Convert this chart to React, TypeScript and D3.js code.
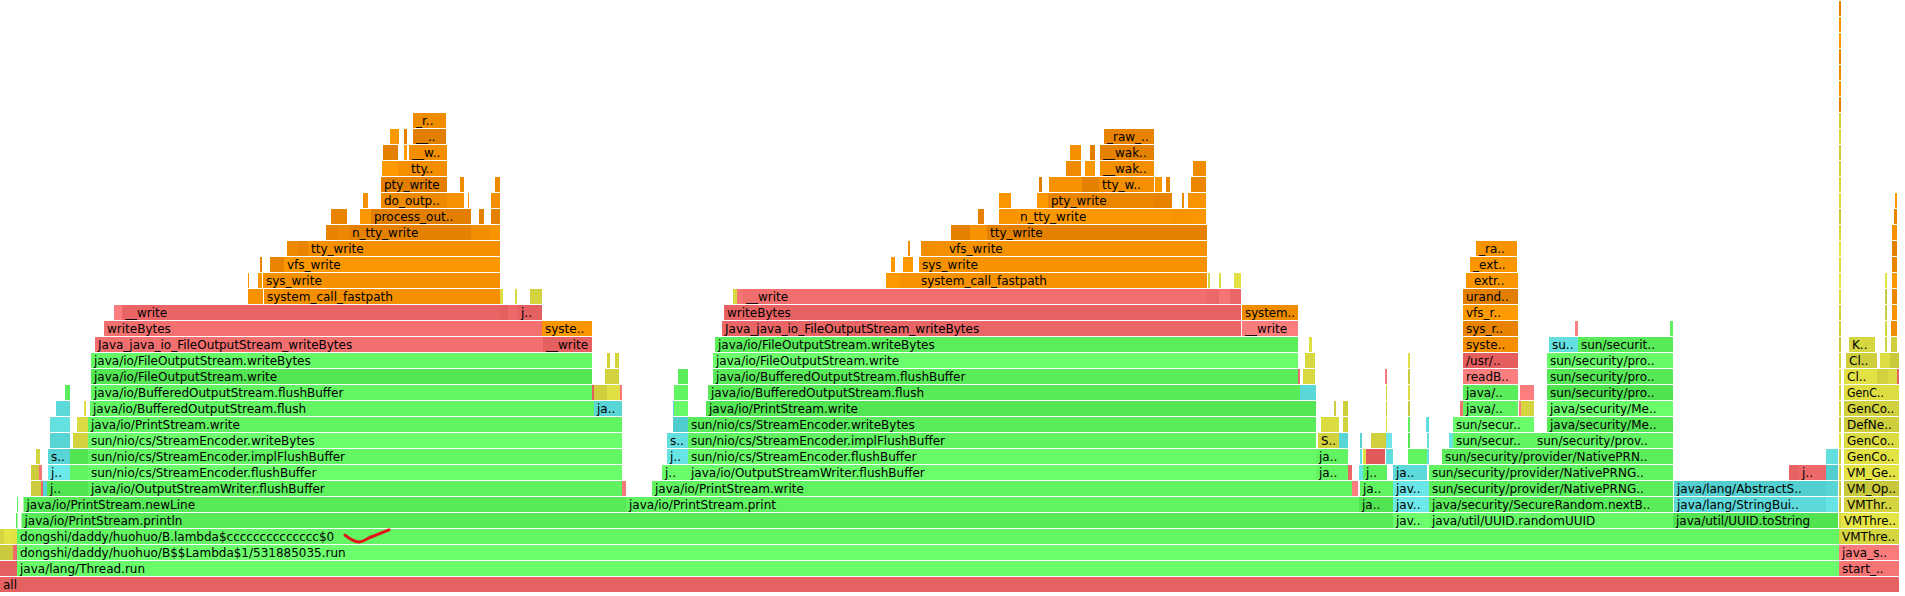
import React, { useEffect, useRef } from 'react';
import * as d3 from 'd3';

type Kind = 'G' | 'C' | 'Y' | 'K' | 'R';
type Frame = [number, number, string, Kind];

// Flame graph: each level lists frames as [firstSample, lastSample, frameName, frameKind]
const TOTAL_SAMPLES = 1899;
const MAX_DEPTH = 36;

const level0: Frame[] = [[0, 1899, 'all', 'R']];
const level1: Frame[] = [[0, 17, '', 'R'], [17, 1839, 'java/lang/Thread.run', 'G'], [1839, 1899, 'start_thread', 'R']];
const level2: Frame[] = [[0, 13, '', 'Y'], [13, 17, '', 'R'], [17, 1839, 'dongshi/daddy/huohuo/B$$Lambda$1/531885035.run', 'G'], [1839, 1899, 'java_start(Thread*)', 'R']];
const level3: Frame[] = [[0, 4, '', 'Y'], [4, 13, '', 'Y'], [13, 17, '', 'Y'], [17, 1839, 'dongshi/daddy/huohuo/B.lambda$cccccccccccccc$0', 'G'], [1839, 1899, 'VMThread::run', 'Y']];
const level4: Frame[] = [[16, 17.5, '', 'G'], [21.5, 1393, 'java/io/PrintStream.println', 'G'], [1393, 1429, 'java/lang/StringBuilder.append', 'G'], [1429, 1673, 'java/util/UUID.randomUUID', 'G'], [1673, 1838, 'java/util/UUID.toString', 'G'], [1841, 1899, 'VMThread::loop', 'Y']];
const level5: Frame[] = [[17, 18, '', 'G'], [23.5, 626, 'java/io/PrintStream.newLine', 'G'], [626, 1359, 'java/io/PrintStream.print', 'G'], [1359, 1393, 'java/lang/String.valueOf', 'G'], [1393, 1429, 'java/lang/AbstractStringBuilder.append', 'C'], [1429, 1673, 'java/security/SecureRandom.nextBytes', 'G'], [1674, 1826, 'java/lang/StringBuilder.append', 'C'], [1826, 1838, '', 'C'], [1844, 1899, 'VMThread::evaluate_operation', 'Y']];
const level6: Frame[] = [[31, 41, '', 'Y'], [41, 43, '', 'R'], [43, 47, '', 'C'], [47, 70, 'java/io/BufferedWriter.flushBuffer', 'G'], [70, 88, '', 'G'], [88, 622, 'java/io/OutputStreamWriter.flushBuffer', 'G'], [622, 626, '', 'R'], [652, 1352, 'java/io/PrintStream.write', 'G'], [1352, 1358, '', 'R'], [1360, 1393, 'java/lang/String.toString', 'G'], [1393, 1429, 'java/lang/AbstractStringBuilder.ensureCapacityInternal', 'C'], [1429, 1673, 'sun/security/provider/NativePRNG.engineNextBytes', 'G'], [1674, 1826, 'java/lang/AbstractStringBuilder.append', 'C'], [1826, 1838, '', 'C'], [1844, 1899, 'VM_Operation::evaluate', 'Y']];
const level7: Frame[] = [[31, 39, '', 'Y'], [39, 42, '', 'R'], [48, 70, 'java/io/OutputStreamWriter.flushBuffer', 'C'], [70, 88, '', 'G'], [88, 622, 'sun/nio/cs/StreamEncoder.flushBuffer', 'G'], [662, 688, 'java/io/BufferedWriter.flushBuffer', 'G'], [688, 1316, 'java/io/OutputStreamWriter.flushBuffer', 'G'], [1316, 1348, 'java/io/BufferedWriter.write', 'G'], [1348, 1352, '', 'R'], [1359, 1363, '', 'C'], [1363, 1387, 'java/lang/String.<init>', 'G'], [1393, 1427, 'java/util/Arrays.copyOf', 'C'], [1429, 1673, 'sun/security/provider/NativePRNG$RandomIO.implNextBytes', 'G'], [1789, 1799, '', 'R'], [1799, 1826, 'jlong_disjoint_arraycopy', 'R'], [1826, 1838, '', 'C'], [1844, 1899, 'VM_GenCollectForAllocation::doit', 'Y']];
const level8: Frame[] = [[36, 40, '', 'Y'], [48, 70, 'sun/nio/cs/StreamEncoder.flushBuffer', 'C'], [70, 88, '', 'G'], [88, 622, 'sun/nio/cs/StreamEncoder.implFlushBuffer', 'G'], [667, 688, 'java/io/OutputStreamWriter.flushBuffer', 'C'], [688, 1316, 'sun/nio/cs/StreamEncoder.flushBuffer', 'G'], [1316, 1348, 'java/io/Writer.write', 'G'], [1360, 1362, '', 'C'], [1363, 1366, '', 'Y'], [1366, 1385, '', 'R'], [1386, 1393, '', 'C'], [1408, 1427, '', 'G'], [1427, 1429, '', 'C'], [1442, 1673, 'sun/security/provider/NativePRNG$RandomIO.ensureBufferValid', 'G'], [1826, 1838, '', 'C'], [1844, 1899, 'GenCollectedHeap::do_collection', 'Y']];
const level9: Frame[] = [[50, 70, '', 'C'], [73, 88, '', 'Y'], [88, 622, 'sun/nio/cs/StreamEncoder.writeBytes', 'G'], [667, 688, 'sun/nio/cs/StreamEncoder.implFlushBuffer', 'C'], [688, 1316, 'sun/nio/cs/StreamEncoder.implFlushBuffer', 'G'], [1318, 1339, 'SharedRuntime::complete_monitor_locking_C', 'Y'], [1339, 1348, '', 'C'], [1360, 1362, '', 'C'], [1371, 1386, '', 'Y'], [1386, 1392, '', 'C'], [1408, 1410, '', 'G'], [1427, 1429, '', 'C'], [1449, 1453, '', 'C'], [1453, 1534, 'sun/security/provider/NativePRNG$RandomIO.readFully', 'G'], [1534, 1673, 'sun/security/provider/SecureRandom.engineNextBytes', 'G'], [1844, 1899, 'GenCollectedHeap::collect_generation', 'Y']];
const level10: Frame[] = [[50, 56, '', 'C'], [56, 70, '', 'C'], [77, 88, '', 'Y'], [88, 622, 'java/io/PrintStream.write', 'G'], [673, 688, '', 'C'], [688, 1316, 'sun/nio/cs/StreamEncoder.writeBytes', 'G'], [1321, 1339, '', 'Y'], [1343, 1348, '', 'Y'], [1386, 1387, '', 'Y'], [1408, 1410, '', 'G'], [1426, 1429, '', 'C'], [1453, 1534, 'sun/security/provider/NativePRNG$RandomIO.readFully', 'G'], [1547, 1673, 'java/security/MessageDigest.update', 'G'], [1844, 1899, 'DefNewGeneration::collect', 'Y']];
const level11: Frame[] = [[56, 70, '', 'C'], [84, 86, '', 'Y'], [90, 594, 'java/io/BufferedOutputStream.flush', 'G'], [594, 622, 'java/io/BufferedOutputStream.flushBuffer', 'C'], [673, 674, '', 'C'], [674, 688, '', 'G'], [706, 1316, 'java/io/PrintStream.write', 'G'], [1334, 1336, '', 'Y'], [1343, 1348, '', 'Y'], [1386, 1387, '', 'Y'], [1408, 1410, '', 'Y'], [1460, 1463, '', 'R'], [1463, 1518, 'java/io/FileInputStream.read', 'G'], [1519, 1521, '', 'R'], [1521, 1534, '', 'Y'], [1547, 1673, 'java/security/MessageDigest$Delegate.engineUpdate', 'G'], [1844, 1899, 'GenCollectedHeap::gen_process_roots', 'Y']];
const level12: Frame[] = [[65, 70, '', 'G'], [91, 592, 'java/io/BufferedOutputStream.flushBuffer', 'G'], [592, 594, '', 'R'], [594, 607, '', 'Y'], [607, 620, '', 'Y'], [620, 622, '', 'R'], [674, 688, '', 'G'], [708, 1300, 'java/io/BufferedOutputStream.flush', 'G'], [1300, 1316, '', 'C'], [1386, 1387, '', 'Y'], [1408, 1410, '', 'Y'], [1463, 1518, 'java/io/FileInputStream.readBytes', 'G'], [1520, 1534, '', 'R'], [1547, 1673, 'sun/security/provider/DigestBase.engineUpdate', 'G'], [1844, 1887, 'GenCollectedHeap::process_roots', 'Y'], [1887, 1899, '', 'Y']];
const level13: Frame[] = [[91, 592, 'java/io/FileOutputStream.write', 'G'], [605, 619, '', 'Y'], [678, 688, '', 'G'], [713, 1298, 'java/io/BufferedOutputStream.flushBuffer', 'G'], [1298, 1300, '', 'R'], [1303, 1315, '', 'Y'], [1385, 1387, '', 'R'], [1408, 1410, '', 'Y'], [1463, 1518, 'readBytes', 'R'], [1547, 1673, 'sun/security/provider/SHA.implCompress', 'G'], [1844, 1877, 'ClassLoaderDataGraph::roots_cld_do', 'Y'], [1877, 1888, '', 'Y'], [1888, 1897, '', 'Y'], [1897, 1899, '', 'R']];
const level14: Frame[] = [[91, 592, 'java/io/FileOutputStream.writeBytes', 'G'], [607, 610, '', 'Y'], [615, 619, '', 'Y'], [713, 1298, 'java/io/FileOutputStream.write', 'G'], [1305, 1315, '', 'Y'], [1408, 1410, '', 'Y'], [1463, 1518, '/usr/lib/jvm/java-8/jre/lib/amd64/libjava.so', 'R'], [1547, 1673, 'sun/security/provider/SHA.implCompress0', 'G'], [1846, 1877, 'ClassLoaderData::oops_do', 'Y'], [1880, 1890, '', 'Y'], [1890, 1899, '', 'Y']];
const level15: Frame[] = [[95, 543, 'Java_java_io_FileOutputStream_writeBytes', 'R'], [543, 592, '__write', 'R'], [715, 1298, 'java/io/FileOutputStream.writeBytes', 'G'], [1309, 1312, '', 'Y'], [1463, 1518, 'system_call_fastpath', 'K'], [1549, 1578, 'sun/security/provider/ByteArrayAccess.b2iBig64', 'C'], [1578, 1673, 'sun/security/provider/SHA.implCompressCheck', 'G'], [1849, 1875, 'KlassScanClosure::do_klass', 'Y'], [1885, 1887, '', 'Y'], [1891, 1897, '', 'Y']];
const level16: Frame[] = [[104, 542, 'writeBytes', 'R'], [542, 592, 'system_call_fastpath', 'K'], [722, 1241, 'Java_java_io_FileOutputStream_writeBytes', 'R'], [1242, 1298, '__write', 'R'], [1463, 1518, 'sys_read', 'K'], [1575, 1578, '', 'R'], [1670, 1673, '', 'G'], [1885, 1887, '', 'Y'], [1891, 1897, '', 'K']];
const level17: Frame[] = [[114, 122, '', 'R'], [122, 500, '__write', 'R'], [500, 508, '', 'R'], [508, 518, '', 'R'], [518, 542, 'jni_GetArrayLength', 'R'], [724, 1241, 'writeBytes', 'R'], [1242, 1298, 'system_call_fastpath', 'K'], [1463, 1518, 'vfs_read', 'K'], [1885, 1887, '', 'Y'], [1892, 1897, '', 'K']];
const level18: Frame[] = [[248, 263, '', 'K'], [264, 500, 'system_call_fastpath', 'K'], [500, 503, '', 'Y'], [515, 517, '', 'Y'], [530, 542, '', 'Y'], [733, 737, '', 'Y'], [737, 743, '', 'R'], [743, 1207, '__write', 'R'], [1207, 1219, '', 'R'], [1219, 1230, '', 'R'], [1230, 1241, '', 'R'], [1463, 1518, 'urandom_read', 'K'], [1885, 1887, '', 'Y'], [1892, 1897, '', 'K']];
const level19: Frame[] = [[248, 249, '', 'K'], [258, 262, '', 'K'], [263, 500, 'sys_write', 'K'], [886, 900, '', 'K'], [900, 918, '', 'K'], [918, 1207, 'system_call_fastpath', 'K'], [1208, 1210, '', 'Y'], [1219, 1221, '', 'Y'], [1234, 1241, '', 'Y'], [1466, 1471, '', 'K'], [1471, 1518, 'extract_entropy_user', 'K'], [1885, 1887, '', 'Y'], [1892, 1897, '', 'K']];
const level20: Frame[] = [[260, 262, '', 'K'], [270, 284, '', 'K'], [284, 500, 'vfs_write', 'K'], [891, 895, '', 'K'], [903, 913, '', 'K'], [919, 1207, 'sys_write', 'K'], [1470, 1517, '_extract_entropy', 'K'], [1892, 1897, '', 'K']];
const level21: Frame[] = [[287, 298, '', 'K'], [298, 308, '', 'K'], [308, 500, 'tty_write', 'K'], [908, 910, '', 'K'], [921, 934, '', 'K'], [934, 946, '', 'K'], [946, 1207, 'vfs_write', 'K'], [1476, 1517, '_raw_spin_unlock_irqrestore', 'K'], [1892, 1897, '', 'K']];
const level22: Frame[] = [[326, 338, '', 'K'], [338, 349, '', 'K'], [349, 471, 'n_tty_write', 'K'], [471, 490, '', 'K'], [490, 500, '', 'K'], [951, 970, '', 'K'], [970, 987, '', 'K'], [987, 1207, 'tty_write', 'K'], [1892, 1897, '', 'K']];
const level23: Frame[] = [[331, 347, '', 'K'], [360, 371, '', 'K'], [371, 465, 'process_output_block', 'K'], [465, 471, '', 'K'], [479, 484, '', 'K'], [491, 500, '', 'K'], [978, 984, '', 'K'], [999, 1017, '', 'K'], [1017, 1172, 'n_tty_write', 'K'], [1172, 1190, '', 'K'], [1190, 1206, '', 'K'], [1894, 1897, '', 'K']];
const level24: Frame[] = [[363, 368, '', 'K'], [381, 447, 'do_output_char', 'K'], [447, 464, '', 'K'], [468, 469, '', 'K'], [491, 500, '', 'K'], [999, 1011, '', 'K'], [1037, 1048, '', 'K'], [1048, 1154, 'pty_write', 'K'], [1154, 1172, '', 'K'], [1182, 1184, '', 'K'], [1188, 1206, '', 'K'], [1895, 1897, '', 'K']];
const level25: Frame[] = [[381, 447, 'pty_write', 'K'], [460, 464, '', 'K'], [495, 500, '', 'K'], [1039, 1042, '', 'K'], [1049, 1066, '', 'K'], [1066, 1082, '', 'K'], [1082, 1099, '', 'K'], [1099, 1154, 'tty_wakeup', 'K'], [1155, 1162, '', 'K'], [1166, 1170, '', 'K'], [1191, 1206, '', 'K']];
const level26: Frame[] = [[382, 398, '', 'K'], [398, 408, '', 'K'], [408, 447, 'tty_flip_buffer_push', 'K'], [1066, 1081, '', 'K'], [1085, 1095, '', 'K'], [1100, 1154, '__wake_up', 'K'], [1193, 1206, '', 'K']];
const level27: Frame[] = [[383, 398, '', 'K'], [404, 407, '', 'K'], [409, 447, '__wake_up', 'K'], [1070, 1081, '', 'K'], [1090, 1095, '', 'K'], [1100, 1154, '__wake_up_common', 'K']];
const level28: Frame[] = [[390, 399, '', 'K'], [404, 407, '', 'K'], [413, 446, '__wake_up_common', 'K'], [1104, 1154, '_raw_spin_unlock_irqrestore', 'K']];
const level29: Frame[] = [[413, 446, '_raw_spin_unlock_irqrestore', 'K']];

// the narrow VM-thread spike that reaches the top of the graph: kind per level, from level 4 up to 36
const spikeRange: [number, number] = [1839, 1841];
const spikeKinds: Kind[] = [
  'Y', 'Y', 'Y', 'Y', 'Y', 'Y', 'Y', 'Y', 'Y', 'Y', 'Y', 'Y', 'Y', 'Y', 'Y', 'Y', 'Y', 'Y', 'Y', 'Y', 'Y', 'Y', 'Y', 'Y', 'Y', 'Y',
  'K', 'K', 'K', 'K', 'K', 'K', 'K',
];
const spikeFirstLevel = 4;

const levels: Frame[][] = [
  level0, level1, level2, level3, level4, level5, level6, level7, level8, level9,
  level10, level11, level12, level13, level14, level15, level16, level17, level18, level19,
  level20, level21, level22, level23, level24, level25, level26, level27, level28, level29,
];

// hand-drawn red tick next to the lambda frame: [sample, level]
const tickMark: [number, number][] = [[345, 2.62], [351, 2.36], [359, 2.18], [371, 2.5], [389, 2.95]];

const palette: Record<Kind, number[]> = {
  G: [0x50, 0xe1, 0x50, 30, 30, 30],
  C: [0x50, 0xcc, 0xcc, 30, 30, 30],
  Y: [0xc8, 0xc8, 0x3c, 30, 30, 10],
  K: [0xe1, 0x7d, 0x00, 30, 30, 0],
  R: [0xe1, 0x5a, 0x5a, 30, 40, 40],
};

function unitHash(n: number): number {
  const s = Math.sin(n * 12.9898 + 78.233) * 43758.5453;
  return s - Math.floor(s);
}

function frameColor(kind: Kind, seed: number): string {
  const p = palette[kind];
  const v = unitHash(seed);
  return d3.rgb(p[0] + p[3] * v, p[1] + p[4] * v, p[2] + p[5] * v).formatHex();
}

function label(name: string, w: number): string | null {
  if (!name || w < 21) return null;
  const chars = Math.floor(w / 7);
  return name.length <= chars ? name : name.substring(0, chars - 2) + '..';
}

const W = 1905;
const H = 596;

export default function App() {
  const ref = useRef<SVGSVGElement>(null);

  const x = d3.scaleLinear().domain([0, TOTAL_SAMPLES]).range([0, 1899]);
  const y = d3.scaleLinear().domain([0, MAX_DEPTH]).range([577, 1]);
  const rowH = 15;

  const all: { d: number; f: Frame }[] = [];
  levels.forEach((lv, d) => lv.forEach((f) => all.push({ d, f })));
  spikeKinds.forEach((k, i) => all.push({ d: spikeFirstLevel + i, f: [spikeRange[0], spikeRange[1], '', k] }));

  const tickPath = d3.line<[number, number]>()
    .x((p) => x(p[0]))
    .y((p) => y(p[1]))
    .curve(d3.curveCatmullRom)(tickMark) || '';

  useEffect(() => {
    const svg = ref.current;
    if (!svg) return;
    svg.querySelectorAll<SVGTextElement>('text[data-max]').forEach((t) => {
      const max = +(t.getAttribute('data-max') || 0);
      const len = t.getComputedTextLength();
      if (len > max) {
        t.setAttribute('textLength', String(max));
        t.setAttribute('lengthAdjust', 'spacingAndGlyphs');
      }
    });
  }, []);

  return (
    <svg
      ref={ref}
      width={W}
      height={H}
      style={{ position: 'absolute', left: 0, top: 0, background: '#ffffff' }}
      fontFamily="Verdana, 'DejaVu Sans', sans-serif"
      fontSize={12}
    >
      {all.map(({ d, f }, i) => {
        const x0 = x(f[0]);
        const w = x(f[1]) - x0;
        const t = label(f[2], w);
        return (
          <g key={i}>
            <rect x={x0} y={y(d)} width={w} height={rowH} fill={frameColor(f[3], d * 10007 + f[0] * 13.7 + i)} />
            {t && (
              <text x={x0 + 3} y={y(d) + 12} fill="#000" data-max={w - 6}>
                {t}
              </text>
            )}
          </g>
        );
      })}
      <path d={tickPath} fill="none" stroke="#e3151b" strokeWidth={3} strokeLinecap="round" />
    </svg>
  );
}
